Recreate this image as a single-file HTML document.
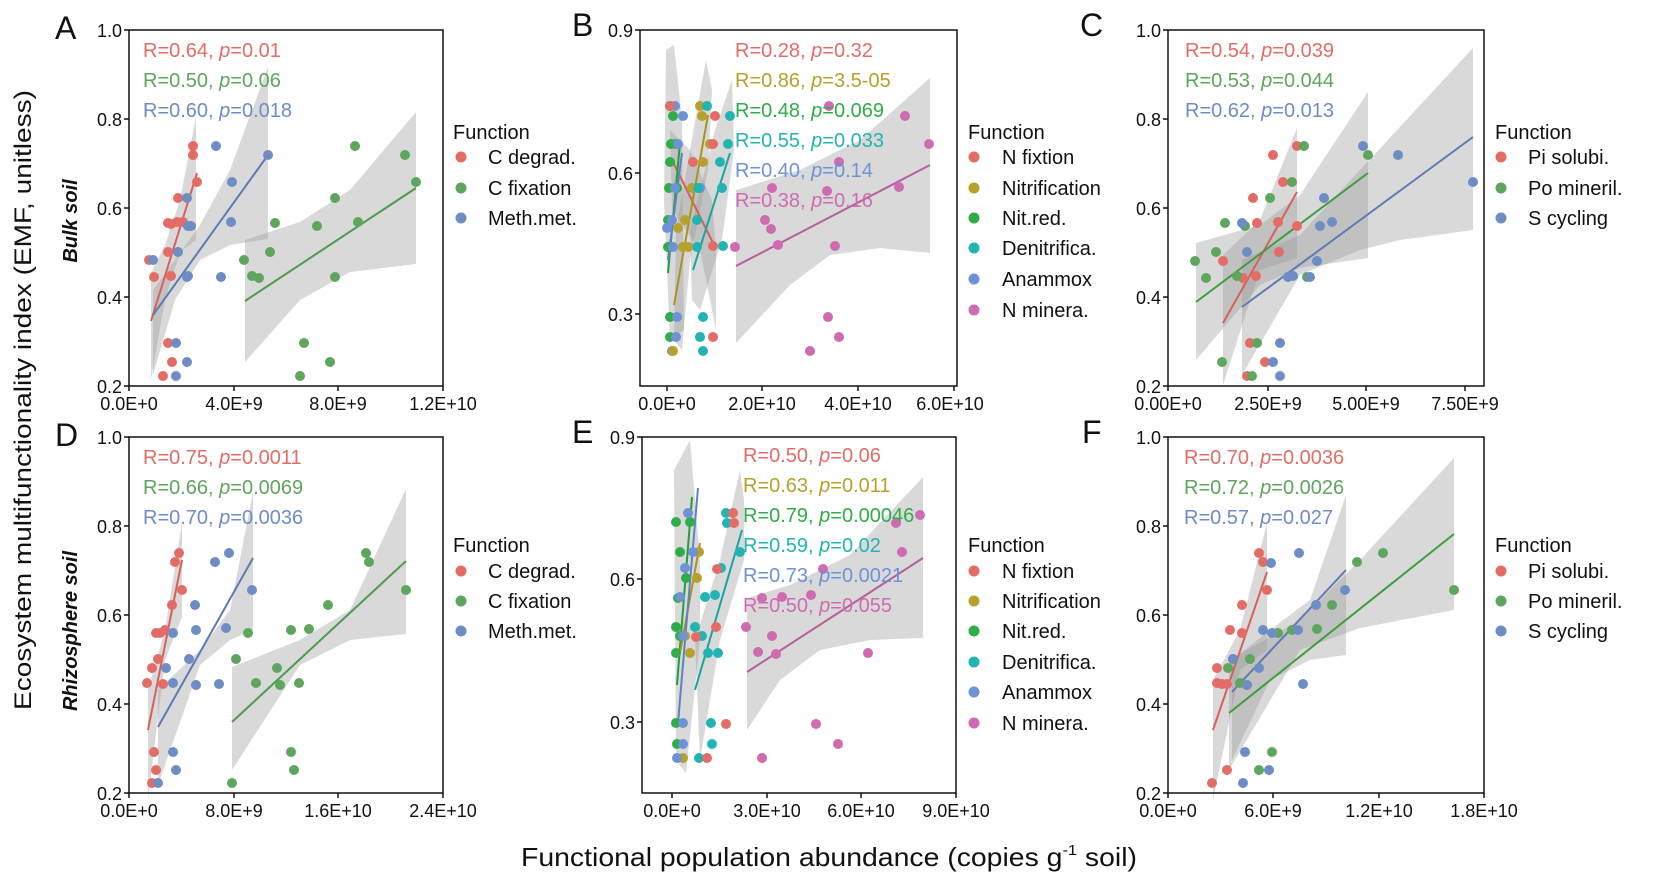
<!DOCTYPE html>
<html><head><meta charset="utf-8"><style>
html,body{margin:0;padding:0;background:#fff}
svg{display:block}
text{font-family:"Liberation Sans",Arial,sans-serif}
.r{fill:#E36D66}.g{fill:#5EA55E}.b{fill:#6D8DC4}.o{fill:#B7A12C}.n{fill:#2EAD48}.t{fill:#22B3B3}.p{fill:#CF6BB0}.a{fill:#6E92D6}
.band{fill:#9a9a9a;opacity:.38}
.tk{font-size:18px;fill:#111}
.ann{font-size:20px}
.lg{font-size:20px;fill:#111}
</style></head><body>
<svg width="1654" height="881" viewBox="0 0 1654 881" xmlns="http://www.w3.org/2000/svg">
<text transform="translate(31,400) rotate(-90)" text-anchor="middle" font-size="24" fill="#111" textLength="620" lengthAdjust="spacingAndGlyphs">Ecosystem multifunctionality index (EMF, unitless)</text>
<text transform="translate(77,221) rotate(-90)" text-anchor="middle" font-size="20" font-weight="bold" font-style="italic" fill="#111">Bulk soil</text>
<text transform="translate(77,631) rotate(-90)" text-anchor="middle" font-size="20" font-weight="bold" font-style="italic" fill="#111">Rhizosphere soil</text>
<text x="521" y="866" font-size="26" fill="#111" textLength="616" lengthAdjust="spacingAndGlyphs">Functional population abundance (copies g<tspan font-size="15" dy="-11">-1</tspan><tspan dy="11"> soil)</tspan></text>
<g font-size="32" fill="#111">
<text x="55" y="39">A</text><text x="572" y="36">B</text><text x="1080" y="36">C</text>
<text x="55" y="446">D</text><text x="572" y="443">E</text><text x="1082" y="443">F</text>
</g>

<!-- ============ PANEL A ============ -->
<g>
<polygon class="band" points="151,273 165,245 180,200 196,117 196,240 180,252 165,300 151,380"/>
<polygon class="band" points="153,290 175,260 200,225 230,170 268,67 268,239 230,245 200,260 175,300 153,375"/>
<polygon class="band" points="245,240 300,222 350,190 416,112 416,264 350,272 300,300 245,362"/>
<line x1="151" y1="321" x2="197" y2="173" stroke="#D9605A" stroke-width="2"/>
<line x1="153" y1="315" x2="268" y2="155" stroke="#5A7BB5" stroke-width="2"/>
<line x1="245" y1="301" x2="416" y2="188" stroke="#4E9A4E" stroke-width="2"/>
<g class="r"><circle cx="149" cy="260" r="5"/><circle cx="154" cy="277" r="5"/><circle cx="168" cy="252" r="5"/><circle cx="171" cy="276" r="5"/><circle cx="168" cy="223" r="5"/><circle cx="171" cy="224" r="5"/><circle cx="177" cy="222" r="5"/><circle cx="178" cy="198" r="5"/><circle cx="193" cy="146" r="5"/><circle cx="193" cy="155" r="5"/><circle cx="197" cy="182" r="5"/><circle cx="168" cy="343" r="5"/><circle cx="172" cy="362" r="5"/><circle cx="163" cy="376" r="5"/><circle cx="183" cy="222" r="5"/></g>
<g class="b"><circle cx="153" cy="260" r="5"/><circle cx="187" cy="277" r="5"/><circle cx="188" cy="276" r="5"/><circle cx="178" cy="252" r="5"/><circle cx="187" cy="198" r="5"/><circle cx="188" cy="226" r="5"/><circle cx="191" cy="226" r="5"/><circle cx="216" cy="146" r="5"/><circle cx="232" cy="182" r="5"/><circle cx="231" cy="222" r="5"/><circle cx="221" cy="277" r="5"/><circle cx="268" cy="155" r="5"/><circle cx="176" cy="343" r="5"/><circle cx="187" cy="362" r="5"/><circle cx="176" cy="376" r="5"/></g>
<g class="g"><circle cx="244" cy="260" r="5"/><circle cx="252" cy="276" r="5"/><circle cx="259" cy="278" r="5"/><circle cx="270" cy="252" r="5"/><circle cx="275" cy="223" r="5"/><circle cx="317" cy="226" r="5"/><circle cx="335" cy="198" r="5"/><circle cx="335" cy="277" r="5"/><circle cx="355" cy="146" r="5"/><circle cx="358" cy="222" r="5"/><circle cx="405" cy="155" r="5"/><circle cx="416" cy="182" r="5"/><circle cx="304" cy="343" r="5"/><circle cx="330" cy="362" r="5"/><circle cx="300" cy="376" r="5"/></g>
<rect x="129" y="30" width="314" height="356" fill="none" stroke="#111" stroke-width="1.5"/>
<g stroke="#111" stroke-width="1.5"><line x1="124" y1="30" x2="129" y2="30"/><line x1="124" y1="119" x2="129" y2="119"/><line x1="124" y1="208" x2="129" y2="208"/><line x1="124" y1="297" x2="129" y2="297"/><line x1="124" y1="386" x2="129" y2="386"/>
<line x1="129" y1="386" x2="129" y2="391"/><line x1="234" y1="386" x2="234" y2="391"/><line x1="338" y1="386" x2="338" y2="391"/><line x1="443" y1="386" x2="443" y2="391"/></g>
<g class="tk" text-anchor="end"><text x="122" y="37">1.0</text><text x="122" y="126">0.8</text><text x="122" y="215">0.6</text><text x="122" y="304">0.4</text><text x="122" y="393">0.2</text></g>
<g class="tk" text-anchor="middle"><text x="129" y="410">0.0E+0</text><text x="234" y="410">4.0E+9</text><text x="338" y="410">8.0E+9</text><text x="443" y="410">1.2E+10</text></g>
<g class="ann"><text x="143" y="57" class="r">R=0.64, <tspan font-style="italic">p</tspan>=0.01</text><text x="143" y="87" class="g">R=0.50, <tspan font-style="italic">p</tspan>=0.06</text><text x="143" y="117" class="b">R=0.60, <tspan font-style="italic">p</tspan>=0.018</text></g>
<text x="453" y="139" class="lg">Function</text>
<circle cx="461" cy="157" r="5.5" class="r"/><circle cx="461" cy="188" r="5.5" class="g"/><circle cx="461" cy="218" r="5.5" class="b"/>
<g class="lg"><text x="488" y="164">C degrad.</text><text x="488" y="195">C fixation</text><text x="488" y="225">Meth.met.</text></g>
</g>

<!-- ============ PANEL B ============ -->
<g>
<polygon class="band" points="666,50 674,45 682,120 684,330 670,340 664,200"/>
<polygon class="band" points="676,230 690,150 706,60 712,90 708,170 690,260 682,350 674,340"/>
<polygon class="band" points="670,130 690,150 712,200 716,250 716,330 700,250 672,210"/>
<polygon class="band" points="690,230 715,130 732,80 734,150 722,240 700,310 692,300"/>
<polygon class="band" points="736,190 800,170 860,140 930,78 930,253 880,248 830,255 790,285 736,343"/>
<line x1="672" y1="160" x2="715" y2="247" stroke="#D9605A" stroke-width="2"/>
<line x1="674" y1="305" x2="708" y2="115" stroke="#A8931F" stroke-width="2"/>
<line x1="668" y1="273" x2="680" y2="143" stroke="#229E3C" stroke-width="2"/>
<line x1="693" y1="270" x2="730" y2="153" stroke="#1AA3A3" stroke-width="2"/>
<line x1="668" y1="260" x2="682" y2="153" stroke="#5D82C6" stroke-width="2"/>
<line x1="736" y1="266" x2="930" y2="165" stroke="#B75E9D" stroke-width="2"/>
<g class="n"><circle cx="670" cy="106" r="5"/><circle cx="673" cy="116" r="5"/><circle cx="671" cy="144" r="5"/><circle cx="670" cy="162" r="5"/><circle cx="669" cy="188" r="5"/><circle cx="668" cy="220" r="5"/><circle cx="668" cy="247" r="5"/><circle cx="670" cy="317" r="5"/><circle cx="670" cy="337" r="5"/><circle cx="676" cy="144" r="5"/><circle cx="677" cy="188" r="5"/></g>
<g class="a"><circle cx="675" cy="106" r="5"/><circle cx="683" cy="116" r="5"/><circle cx="678" cy="144" r="5"/><circle cx="672" cy="220" r="5"/><circle cx="667" cy="228" r="5"/><circle cx="673" cy="247" r="5"/><circle cx="677" cy="317" r="5"/><circle cx="676" cy="337" r="5"/><circle cx="672" cy="351" r="5"/><circle cx="700" cy="188" r="5"/><circle cx="675" cy="188" r="5"/></g>
<g class="o"><circle cx="700" cy="106" r="5"/><circle cx="702" cy="116" r="5"/><circle cx="703" cy="162" r="5"/><circle cx="685" cy="220" r="5"/><circle cx="683" cy="247" r="5"/><circle cx="678" cy="228" r="5"/><circle cx="710" cy="144" r="5"/><circle cx="692" cy="188" r="5"/><circle cx="673" cy="351" r="5"/><circle cx="688" cy="247" r="5"/></g>
<g class="t"><circle cx="707" cy="106" r="5"/><circle cx="730" cy="116" r="5"/><circle cx="728" cy="144" r="5"/><circle cx="720" cy="162" r="5"/><circle cx="722" cy="188" r="5"/><circle cx="698" cy="188" r="5"/><circle cx="697" cy="220" r="5"/><circle cx="697" cy="247" r="5"/><circle cx="723" cy="246" r="5"/><circle cx="703" cy="317" r="5"/><circle cx="700" cy="337" r="5"/><circle cx="703" cy="351" r="5"/></g>
<g class="r"><circle cx="670" cy="106" r="5"/><circle cx="715" cy="116" r="5"/><circle cx="713" cy="144" r="5"/><circle cx="693" cy="162" r="5"/><circle cx="713" cy="246" r="5"/><circle cx="713" cy="337" r="5"/></g>
<g class="p"><circle cx="829" cy="106" r="5"/><circle cx="905" cy="116" r="5"/><circle cx="929" cy="144" r="5"/><circle cx="839" cy="162" r="5"/><circle cx="772" cy="188" r="5"/><circle cx="827" cy="191" r="5"/><circle cx="899" cy="187" r="5"/><circle cx="765" cy="220" r="5"/><circle cx="771" cy="229" r="5"/><circle cx="778" cy="245" r="5"/><circle cx="735" cy="247" r="5"/><circle cx="835" cy="246" r="5"/><circle cx="828" cy="317" r="5"/><circle cx="839" cy="337" r="5"/><circle cx="810" cy="351" r="5"/></g>
<rect x="640" y="30" width="317" height="356" fill="none" stroke="#111" stroke-width="1.5"/>
<g stroke="#111" stroke-width="1.5"><line x1="635" y1="30" x2="640" y2="30"/><line x1="635" y1="173" x2="640" y2="173"/><line x1="635" y1="314" x2="640" y2="314"/>
<line x1="667" y1="386" x2="667" y2="391"/><line x1="762" y1="386" x2="762" y2="391"/><line x1="858" y1="386" x2="858" y2="391"/><line x1="954" y1="386" x2="954" y2="391"/></g>
<g class="tk" text-anchor="end"><text x="633" y="37">0.9</text><text x="633" y="180">0.6</text><text x="633" y="321">0.3</text></g>
<g class="tk" text-anchor="middle"><text x="667" y="410">0.0E+0</text><text x="762" y="410">2.0E+10</text><text x="858" y="410">4.0E+10</text><text x="950" y="410">6.0E+10</text></g>
<g class="ann"><text x="735" y="57" class="r">R=0.28, <tspan font-style="italic">p</tspan>=0.32</text><text x="735" y="87" class="o">R=0.86, <tspan font-style="italic">p</tspan>=3.5-05</text><text x="735" y="117" class="n">R=0.48, <tspan font-style="italic">p</tspan>=0.069</text><text x="735" y="147" class="t">R=0.55, <tspan font-style="italic">p</tspan>=0.033</text><text x="735" y="177" class="a">R=0.40, <tspan font-style="italic">p</tspan>=0.14</text><text x="735" y="207" class="p">R=0.38, <tspan font-style="italic">p</tspan>=0.16</text></g>
<text x="968" y="139" class="lg">Function</text>
<circle cx="974" cy="157" r="5.5" class="r"/><circle cx="974" cy="188" r="5.5" class="o"/><circle cx="974" cy="218" r="5.5" class="n"/><circle cx="974" cy="248" r="5.5" class="t"/><circle cx="974" cy="279" r="5.5" class="a"/><circle cx="974" cy="310" r="5.5" class="p"/>
<g class="lg"><text x="1002" y="164">N fixtion</text><text x="1002" y="195">Nitrification</text><text x="1002" y="225">Nit.red.</text><text x="1002" y="255">Denitrifica.</text><text x="1002" y="286">Anammox</text><text x="1002" y="317">N minera.</text></g>
</g>

<!-- ============ PANEL C ============ -->
<g>
<polygon class="band" points="1223,255 1260,220 1297,128 1297,258 1260,270 1223,385"/>
<polygon class="band" points="1196,243 1260,225 1300,195 1368,92 1368,258 1300,268 1260,285 1196,360"/>
<polygon class="band" points="1242,260 1300,235 1360,170 1473,48 1473,230 1400,240 1360,250 1300,275 1242,375"/>
<line x1="1223" y1="323" x2="1297" y2="192" stroke="#D9605A" stroke-width="2"/>
<line x1="1196" y1="302" x2="1368" y2="173" stroke="#3E9E3E" stroke-width="2"/>
<line x1="1242" y1="307" x2="1473" y2="137" stroke="#5A7BB5" stroke-width="2"/>
<g class="r"><circle cx="1223" cy="261" r="5"/><circle cx="1243" cy="278" r="5"/><circle cx="1256" cy="276" r="5"/><circle cx="1253" cy="198" r="5"/><circle cx="1257" cy="223" r="5"/><circle cx="1273" cy="155" r="5"/><circle cx="1278" cy="222" r="5"/><circle cx="1283" cy="182" r="5"/><circle cx="1279" cy="252" r="5"/><circle cx="1297" cy="146" r="5"/><circle cx="1297" cy="226" r="5"/><circle cx="1250" cy="343" r="5"/><circle cx="1265" cy="362" r="5"/><circle cx="1247" cy="376" r="5"/></g>
<g class="g"><circle cx="1195" cy="261" r="5"/><circle cx="1206" cy="278" r="5"/><circle cx="1216" cy="252" r="5"/><circle cx="1225" cy="223" r="5"/><circle cx="1237" cy="276" r="5"/><circle cx="1245" cy="226" r="5"/><circle cx="1270" cy="198" r="5"/><circle cx="1292" cy="182" r="5"/><circle cx="1304" cy="146" r="5"/><circle cx="1307" cy="277" r="5"/><circle cx="1368" cy="155" r="5"/><circle cx="1257" cy="343" r="5"/><circle cx="1222" cy="362" r="5"/><circle cx="1252" cy="376" r="5"/></g>
<g class="b"><circle cx="1242" cy="223" r="5"/><circle cx="1247" cy="252" r="5"/><circle cx="1288" cy="277" r="5"/><circle cx="1293" cy="276" r="5"/><circle cx="1310" cy="277" r="5"/><circle cx="1317" cy="261" r="5"/><circle cx="1320" cy="226" r="5"/><circle cx="1324" cy="198" r="5"/><circle cx="1332" cy="222" r="5"/><circle cx="1363" cy="146" r="5"/><circle cx="1398" cy="155" r="5"/><circle cx="1473" cy="182" r="5"/><circle cx="1280" cy="343" r="5"/><circle cx="1273" cy="362" r="5"/><circle cx="1280" cy="376" r="5"/></g>
<rect x="1168" y="30" width="316" height="356" fill="none" stroke="#111" stroke-width="1.5"/>
<g stroke="#111" stroke-width="1.5"><line x1="1163" y1="30" x2="1168" y2="30"/><line x1="1163" y1="119" x2="1168" y2="119"/><line x1="1163" y1="208" x2="1168" y2="208"/><line x1="1163" y1="297" x2="1168" y2="297"/><line x1="1163" y1="386" x2="1168" y2="386"/>
<line x1="1168" y1="386" x2="1168" y2="391"/><line x1="1268" y1="386" x2="1268" y2="391"/><line x1="1366" y1="386" x2="1366" y2="391"/><line x1="1465" y1="386" x2="1465" y2="391"/></g>
<g class="tk" text-anchor="end"><text x="1161" y="37">1.0</text><text x="1161" y="126">0.8</text><text x="1161" y="215">0.6</text><text x="1161" y="304">0.4</text><text x="1161" y="393">0.2</text></g>
<g class="tk" text-anchor="middle"><text x="1168" y="410">0.00E+0</text><text x="1268" y="410">2.50E+9</text><text x="1366" y="410">5.00E+9</text><text x="1465" y="410">7.50E+9</text></g>
<g class="ann"><text x="1185" y="57" class="r">R=0.54, <tspan font-style="italic">p</tspan>=0.039</text><text x="1185" y="87" class="g">R=0.53, <tspan font-style="italic">p</tspan>=0.044</text><text x="1185" y="117" class="b">R=0.62, <tspan font-style="italic">p</tspan>=0.013</text></g>
<text x="1495" y="139" class="lg">Function</text>
<circle cx="1501" cy="157" r="5.5" class="r"/><circle cx="1501" cy="188" r="5.5" class="g"/><circle cx="1501" cy="218" r="5.5" class="b"/>
<g class="lg"><text x="1528" y="164">Pi solubi.</text><text x="1528" y="195">Po mineril.</text><text x="1528" y="225">S cycling</text></g>
</g>

<!-- ============ PANEL D ============ -->
<g>
<polygon class="band" points="148,690 165,630 182,523 182,617 165,660 148,800"/>
<polygon class="band" points="158,690 200,650 230,610 253,492 253,630 230,640 200,665 158,785"/>
<polygon class="band" points="232,667 300,640 350,610 406,489 406,634 350,640 300,665 232,770"/>
<line x1="148" y1="730" x2="182" y2="560" stroke="#D9605A" stroke-width="2"/>
<line x1="158" y1="727" x2="253" y2="558" stroke="#5A7BB5" stroke-width="2"/>
<line x1="232" y1="722" x2="406" y2="561" stroke="#4E9A4E" stroke-width="2"/>
<g class="r"><circle cx="147" cy="683" r="5"/><circle cx="152" cy="668" r="5"/><circle cx="156" cy="633" r="5"/><circle cx="158" cy="659" r="5"/><circle cx="163" cy="684" r="5"/><circle cx="165" cy="630" r="5"/><circle cx="172" cy="605" r="5"/><circle cx="175" cy="562" r="5"/><circle cx="179" cy="553" r="5"/><circle cx="182" cy="590" r="5"/><circle cx="154" cy="752" r="5"/><circle cx="156" cy="770" r="5"/><circle cx="152" cy="783" r="5"/><circle cx="160" cy="633" r="5"/></g>
<g class="b"><circle cx="166" cy="668" r="5"/><circle cx="173" cy="683" r="5"/><circle cx="173" cy="633" r="5"/><circle cx="189" cy="659" r="5"/><circle cx="195" cy="605" r="5"/><circle cx="196" cy="630" r="5"/><circle cx="196" cy="685" r="5"/><circle cx="215" cy="562" r="5"/><circle cx="226" cy="628" r="5"/><circle cx="229" cy="553" r="5"/><circle cx="252" cy="590" r="5"/><circle cx="219" cy="684" r="5"/><circle cx="173" cy="752" r="5"/><circle cx="176" cy="770" r="5"/><circle cx="158" cy="783" r="5"/></g>
<g class="g"><circle cx="232" cy="783" r="5"/><circle cx="236" cy="659" r="5"/><circle cx="248" cy="633" r="5"/><circle cx="256" cy="683" r="5"/><circle cx="277" cy="668" r="5"/><circle cx="280" cy="685" r="5"/><circle cx="291" cy="630" r="5"/><circle cx="299" cy="683" r="5"/><circle cx="309" cy="629" r="5"/><circle cx="328" cy="605" r="5"/><circle cx="366" cy="553" r="5"/><circle cx="369" cy="562" r="5"/><circle cx="406" cy="590" r="5"/><circle cx="291" cy="752" r="5"/><circle cx="294" cy="770" r="5"/></g>
<rect x="129" y="437" width="314" height="356" fill="none" stroke="#111" stroke-width="1.5"/>
<g stroke="#111" stroke-width="1.5"><line x1="124" y1="437" x2="129" y2="437"/><line x1="124" y1="526" x2="129" y2="526"/><line x1="124" y1="615" x2="129" y2="615"/><line x1="124" y1="704" x2="129" y2="704"/><line x1="124" y1="793" x2="129" y2="793"/>
<line x1="129" y1="793" x2="129" y2="798"/><line x1="234" y1="793" x2="234" y2="798"/><line x1="338" y1="793" x2="338" y2="798"/><line x1="443" y1="793" x2="443" y2="798"/></g>
<g class="tk" text-anchor="end"><text x="122" y="444">1.0</text><text x="122" y="533">0.8</text><text x="122" y="622">0.6</text><text x="122" y="711">0.4</text><text x="122" y="800">0.2</text></g>
<g class="tk" text-anchor="middle"><text x="129" y="817">0.0E+0</text><text x="234" y="817">8.0E+9</text><text x="338" y="817">1.6E+10</text><text x="443" y="817">2.4E+10</text></g>
<g class="ann"><text x="143" y="464" class="r">R=0.75, <tspan font-style="italic">p</tspan>=0.0011</text><text x="143" y="494" class="g">R=0.66, <tspan font-style="italic">p</tspan>=0.0069</text><text x="143" y="524" class="b">R=0.70, <tspan font-style="italic">p</tspan>=0.0036</text></g>
<text x="453" y="552" class="lg">Function</text>
<circle cx="461" cy="571" r="5.5" class="r"/><circle cx="461" cy="601" r="5.5" class="g"/><circle cx="461" cy="631" r="5.5" class="b"/>
<g class="lg"><text x="488" y="578">C degrad.</text><text x="488" y="608">C fixation</text><text x="488" y="638">Meth.met.</text></g>
</g>

<!-- ============ PANEL E ============ -->
<g>
<polygon class="band" points="674,470 690,440 700,560 700,640 686,773 676,760"/>
<polygon class="band" points="695,640 720,560 740,470 744,500 744,560 720,640 700,760"/>
<polygon class="band" points="747,598 790,585 850,555 923,477 923,638 870,640 820,650 780,680 747,730"/>
<line x1="677" y1="685" x2="692" y2="497" stroke="#229E3C" stroke-width="2"/>
<line x1="680" y1="653" x2="700" y2="543" stroke="#A8931F" stroke-width="2"/>
<line x1="678" y1="723" x2="698" y2="488" stroke="#5D82C6" stroke-width="2"/>
<line x1="695" y1="690" x2="742" y2="530" stroke="#1AA3A3" stroke-width="2"/>
<line x1="747" y1="672" x2="923" y2="558" stroke="#B75E9D" stroke-width="2"/>
<g class="n"><circle cx="676" cy="522" r="5"/><circle cx="680" cy="552" r="5"/><circle cx="686" cy="578" r="5"/><circle cx="678" cy="598" r="5"/><circle cx="676" cy="627" r="5"/><circle cx="680" cy="636" r="5"/><circle cx="676" cy="653" r="5"/><circle cx="676" cy="723" r="5"/><circle cx="677" cy="744" r="5"/><circle cx="690" cy="522" r="5"/><circle cx="684" cy="636" r="5"/></g>
<g class="o"><circle cx="699" cy="552" r="5"/><circle cx="697" cy="578" r="5"/><circle cx="685" cy="636" r="5"/><circle cx="690" cy="653" r="5"/><circle cx="683" cy="758" r="5"/></g>
<g class="a"><circle cx="688" cy="513" r="5"/><circle cx="685" cy="568" r="5"/><circle cx="680" cy="597" r="5"/><circle cx="683" cy="636" r="5"/><circle cx="683" cy="723" r="5"/><circle cx="683" cy="744" r="5"/><circle cx="677" cy="758" r="5"/><circle cx="693" cy="552" r="5"/></g>
<g class="t"><circle cx="726" cy="513" r="5"/><circle cx="727" cy="523" r="5"/><circle cx="740" cy="552" r="5"/><circle cx="721" cy="568" r="5"/><circle cx="715" cy="595" r="5"/><circle cx="705" cy="597" r="5"/><circle cx="695" cy="627" r="5"/><circle cx="702" cy="636" r="5"/><circle cx="708" cy="653" r="5"/><circle cx="718" cy="653" r="5"/><circle cx="699" cy="758" r="5"/><circle cx="711" cy="723" r="5"/><circle cx="712" cy="744" r="5"/></g>
<g class="r"><circle cx="733" cy="513" r="5"/><circle cx="734" cy="523" r="5"/><circle cx="717" cy="569" r="5"/><circle cx="716" cy="627" r="5"/><circle cx="696" cy="637" r="5"/><circle cx="726" cy="724" r="5"/><circle cx="707" cy="758" r="5"/></g>
<g class="p"><circle cx="746" cy="627" r="5"/><circle cx="762" cy="598" r="5"/><circle cx="758" cy="652" r="5"/><circle cx="772" cy="636" r="5"/><circle cx="776" cy="654" r="5"/><circle cx="782" cy="597" r="5"/><circle cx="811" cy="595" r="5"/><circle cx="823" cy="569" r="5"/><circle cx="868" cy="653" r="5"/><circle cx="896" cy="523" r="5"/><circle cx="902" cy="552" r="5"/><circle cx="920" cy="515" r="5"/><circle cx="816" cy="724" r="5"/><circle cx="838" cy="744" r="5"/><circle cx="762" cy="758" r="5"/></g>
<rect x="642" y="437" width="314" height="356" fill="none" stroke="#111" stroke-width="1.5"/>
<g stroke="#111" stroke-width="1.5"><line x1="637" y1="437" x2="642" y2="437"/><line x1="637" y1="579" x2="642" y2="579"/><line x1="637" y1="722" x2="642" y2="722"/>
<line x1="672" y1="793" x2="672" y2="798"/><line x1="767" y1="793" x2="767" y2="798"/><line x1="861" y1="793" x2="861" y2="798"/><line x1="956" y1="793" x2="956" y2="798"/></g>
<g class="tk" text-anchor="end"><text x="635" y="444">0.9</text><text x="635" y="586">0.6</text><text x="635" y="729">0.3</text></g>
<g class="tk" text-anchor="middle"><text x="672" y="817">0.0E+0</text><text x="767" y="817">3.0E+10</text><text x="861" y="817">6.0E+10</text><text x="956" y="817">9.0E+10</text></g>
<g class="ann"><text x="743" y="462" class="r">R=0.50, <tspan font-style="italic">p</tspan>=0.06</text><text x="743" y="492" class="o">R=0.63, <tspan font-style="italic">p</tspan>=0.011</text><text x="743" y="522" class="n">R=0.79, <tspan font-style="italic">p</tspan>=0.00046</text><text x="743" y="552" class="t">R=0.59, <tspan font-style="italic">p</tspan>=0.02</text><text x="743" y="582" class="a">R=0.73, <tspan font-style="italic">p</tspan>=0.0021</text><text x="743" y="612" class="p">R=0.50, <tspan font-style="italic">p</tspan>=0.055</text></g>
<text x="968" y="552" class="lg">Function</text>
<circle cx="974" cy="571" r="5.5" class="r"/><circle cx="974" cy="601" r="5.5" class="o"/><circle cx="974" cy="631" r="5.5" class="n"/><circle cx="974" cy="662" r="5.5" class="t"/><circle cx="974" cy="692" r="5.5" class="a"/><circle cx="974" cy="723" r="5.5" class="p"/>
<g class="lg"><text x="1002" y="578">N fixtion</text><text x="1002" y="608">Nitrification</text><text x="1002" y="638">Nit.red.</text><text x="1002" y="669">Denitrifica.</text><text x="1002" y="699">Anammox</text><text x="1002" y="730">N minera.</text></g>
</g>

<!-- ============ PANEL F ============ -->
<g>
<polygon class="band" points="1213,680 1240,630 1267,523 1267,650 1240,670 1213,800"/>
<polygon class="band" points="1229,660 1300,620 1360,560 1454,458 1454,610 1360,628 1300,650 1229,770"/>
<polygon class="band" points="1232,660 1270,630 1310,600 1346,495 1346,655 1310,660 1270,680 1232,760"/>
<line x1="1213" y1="730" x2="1267" y2="572" stroke="#D9605A" stroke-width="2"/>
<line x1="1229" y1="713" x2="1454" y2="534" stroke="#3E9E3E" stroke-width="2"/>
<line x1="1232" y1="692" x2="1346" y2="570" stroke="#5A7BB5" stroke-width="2"/>
<g class="r"><circle cx="1212" cy="783" r="5"/><circle cx="1227" cy="770" r="5"/><circle cx="1217" cy="668" r="5"/><circle cx="1217" cy="683" r="5"/><circle cx="1222" cy="684" r="5"/><circle cx="1230" cy="630" r="5"/><circle cx="1233" cy="659" r="5"/><circle cx="1242" cy="605" r="5"/><circle cx="1242" cy="633" r="5"/><circle cx="1259" cy="553" r="5"/><circle cx="1263" cy="562" r="5"/><circle cx="1267" cy="590" r="5"/><circle cx="1227" cy="684" r="5"/></g>
<g class="g"><circle cx="1228" cy="668" r="5"/><circle cx="1240" cy="683" r="5"/><circle cx="1250" cy="659" r="5"/><circle cx="1259" cy="770" r="5"/><circle cx="1272" cy="752" r="5"/><circle cx="1278" cy="633" r="5"/><circle cx="1292" cy="630" r="5"/><circle cx="1317" cy="629" r="5"/><circle cx="1332" cy="605" r="5"/><circle cx="1357" cy="562" r="5"/><circle cx="1383" cy="553" r="5"/><circle cx="1454" cy="590" r="5"/><circle cx="1247" cy="685" r="5"/></g>
<g class="b"><circle cx="1233" cy="659" r="5"/><circle cx="1245" cy="752" r="5"/><circle cx="1243" cy="783" r="5"/><circle cx="1247" cy="685" r="5"/><circle cx="1259" cy="668" r="5"/><circle cx="1263" cy="630" r="5"/><circle cx="1271" cy="563" r="5"/><circle cx="1272" cy="633" r="5"/><circle cx="1298" cy="630" r="5"/><circle cx="1299" cy="553" r="5"/><circle cx="1303" cy="684" r="5"/><circle cx="1316" cy="605" r="5"/><circle cx="1345" cy="590" r="5"/><circle cx="1269" cy="770" r="5"/></g>
<rect x="1168" y="437" width="316" height="356" fill="none" stroke="#111" stroke-width="1.5"/>
<g stroke="#111" stroke-width="1.5"><line x1="1163" y1="437" x2="1168" y2="437"/><line x1="1163" y1="526" x2="1168" y2="526"/><line x1="1163" y1="615" x2="1168" y2="615"/><line x1="1163" y1="704" x2="1168" y2="704"/><line x1="1163" y1="793" x2="1168" y2="793"/>
<line x1="1168" y1="793" x2="1168" y2="798"/><line x1="1273" y1="793" x2="1273" y2="798"/><line x1="1379" y1="793" x2="1379" y2="798"/><line x1="1484" y1="793" x2="1484" y2="798"/></g>
<g class="tk" text-anchor="end"><text x="1161" y="444">1.0</text><text x="1161" y="533">0.8</text><text x="1161" y="622">0.6</text><text x="1161" y="711">0.4</text><text x="1161" y="800">0.2</text></g>
<g class="tk" text-anchor="middle"><text x="1168" y="817">0.0E+0</text><text x="1273" y="817">6.0E+9</text><text x="1379" y="817">1.2E+10</text><text x="1484" y="817">1.8E+10</text></g>
<g class="ann"><text x="1184" y="464" class="r">R=0.70, <tspan font-style="italic">p</tspan>=0.0036</text><text x="1184" y="494" class="g">R=0.72, <tspan font-style="italic">p</tspan>=0.0026</text><text x="1184" y="524" class="b">R=0.57, <tspan font-style="italic">p</tspan>=0.027</text></g>
<text x="1495" y="552" class="lg">Function</text>
<circle cx="1501" cy="571" r="5.5" class="r"/><circle cx="1501" cy="601" r="5.5" class="g"/><circle cx="1501" cy="631" r="5.5" class="b"/>
<g class="lg"><text x="1528" y="578">Pi solubi.</text><text x="1528" y="608">Po mineril.</text><text x="1528" y="638">S cycling</text></g>
</g>
</svg>
</body></html>
